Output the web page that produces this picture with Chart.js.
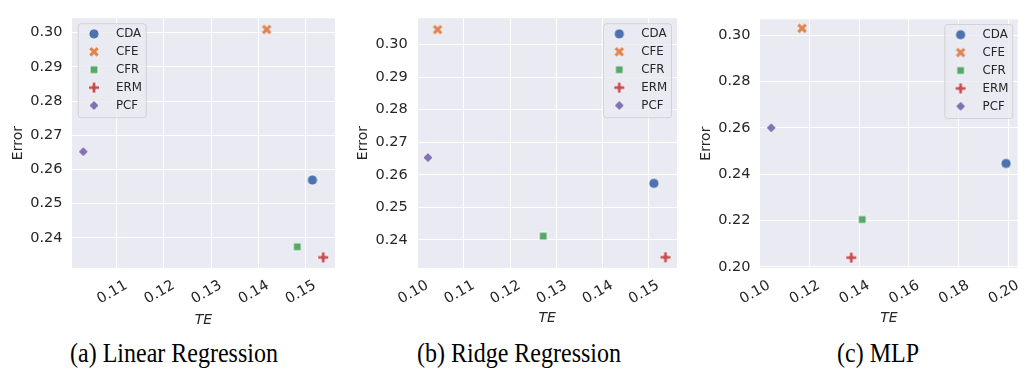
<!DOCTYPE html>
<html>
<head>
<meta charset="utf-8">
<title>TE vs Error</title>
<script src="https://cdn.jsdelivr.net/npm/chart.js@4.4.1/dist/chart.umd.min.js"></script>
<style>
  html, body { margin: 0; padding: 0; background: #ffffff; }
  #page { position: relative; width: 1027px; height: 377px; overflow: hidden; }
  .panel { position: absolute; top: 0; }
  .caption {
    position: absolute; top: 340px;
    font-family: "Liberation Serif", "Times New Roman", serif;
    font-size: 24px; color: #000; white-space: nowrap;
    transform: translateX(-50%) scaleY(1.12);
    transform-origin: center center;
  }
</style>
</head>
<body>
<div id="page">
  <canvas id="chartLin" class="panel" width="342" height="335" style="left:0px"></canvas>
  <canvas id="chartRidge" class="panel" width="342" height="335" style="left:342px"></canvas>
  <canvas id="chartMlp" class="panel" width="343" height="335" style="left:684px"></canvas>
  <div class="caption" style="left:174px">(a) Linear Regression</div>
  <div class="caption" style="left:519px">(b) Ridge Regression</div>
  <div class="caption" style="left:878px">(c) MLP</div>
</div>
<script>
(function() {
    'use strict';

    // ============================================================================
    // DATA
    // ============================================================================

    var methods = ['CDA', 'CFE', 'CFR', 'ERM', 'PCF'];

    // (a) Linear Regression
    var linTE = [0.1515, 0.1418, 0.1483, 0.1538, 0.1029];
    var linError = [0.2569, 0.3009, 0.2374, 0.2343, 0.2652];
    var linXTicks = [0.11, 0.12, 0.13, 0.14, 0.15];
    var linYTicks = [0.24, 0.25, 0.26, 0.27, 0.28, 0.29, 0.30];

    // (b) Ridge Regression
    var ridgeTE = [0.1512, 0.1043, 0.1272, 0.1537, 0.1022];
    var ridgeError = [0.2574, 0.3046, 0.2412, 0.2347, 0.2653];
    var ridgeXTicks = [0.10, 0.11, 0.12, 0.13, 0.14, 0.15];
    var ridgeYTicks = [0.24, 0.25, 0.26, 0.27, 0.28, 0.29, 0.30];

    // (c) MLP
    var mlpTE = [0.1991, 0.1171, 0.1413, 0.1369, 0.1047];
    var mlpError = [0.2446, 0.3029, 0.2204, 0.2040, 0.2600];
    var mlpXTicks = [0.10, 0.12, 0.14, 0.16, 0.18, 0.20];
    var mlpYTicks = [0.20, 0.22, 0.24, 0.26, 0.28, 0.30];

    // ============================================================================
    // STYLE
    // ============================================================================

    var colors = ['#4c72b0', '#dd8452', '#55a868', '#c44e52', '#8172b3'];
    var shapes = ['circle', 'x', 'square', 'plus', 'diamond'];
    var textColor = '#262626';
    var fontFamily = '"DejaVu Sans", Verdana, sans-serif';

    // seaborn-like filled markers with a thin white edge
    function makeMarker(shape, color) {
        var c = document.createElement('canvas');
        c.width = 16;
        c.height = 16;
        var g = c.getContext('2d');
        g.translate(8, 8);
        g.beginPath();
        var pts = null, k = 1;
        if (shape === 'circle') {
            g.arc(0, 0, 5.1, 0, Math.PI * 2);
        } else if (shape === 'square') {
            g.rect(-3.9, -3.9, 7.8, 7.8);
        } else if (shape === 'diamond') {
            g.moveTo(0, -5); g.lineTo(5, 0); g.lineTo(0, 5); g.lineTo(-5, 0);
            g.closePath();
        } else if (shape === 'plus') {
            pts = [[-1, -3], [1, -3], [1, -1], [3, -1], [3, 1], [1, 1],
                   [1, 3], [-1, 3], [-1, 1], [-3, 1], [-3, -1], [-1, -1]];
            k = 11 / 6;
        } else if (shape === 'x') {
            pts = [[-1, -2], [0, -1], [1, -2], [2, -1], [1, 0], [2, 1],
                   [1, 2], [0, 1], [-1, 2], [-2, 1], [-1, 0], [-2, -1]];
            k = 10.6 / 4;
        }
        if (pts) {
            pts.forEach(function(p, i) {
                if (i === 0) g.moveTo(p[0] * k, p[1] * k);
                else g.lineTo(p[0] * k, p[1] * k);
            });
            g.closePath();
        }
        g.fillStyle = color;
        g.fill();
        g.strokeStyle = '#ffffff';
        g.lineWidth = 0.8;
        g.stroke();
        return c;
    }

    var markers = shapes.map(function(s, i) { return makeMarker(s, colors[i]); });

    // ============================================================================
    // PLUGINS
    // ============================================================================

    var areaBackground = {
        id: 'areaBackground',
        beforeDraw: function(chart) {
            var a = chart.chartArea, ctx = chart.ctx;
            ctx.save();
            ctx.fillStyle = '#eaeaf2';
            ctx.fillRect(a.left, a.top, a.right - a.left, a.bottom - a.top);
            ctx.restore();
        }
    };

    // legend drawn inside the plot area, like matplotlib's
    var insetLegend = {
        id: 'insetLegend',
        afterDatasetsDraw: function(chart, args, opts) {
            var a = chart.chartArea, ctx = chart.ctx;
            var w = 68, h = 94, rowH = 17.9;
            var x = opts.side === 'right' ? a.right - opts.dx - w : a.left + opts.dx;
            var y = a.top + opts.dy;
            ctx.save();
            ctx.beginPath();
            ctx.roundRect(x + 0.5, y + 0.5, w, h, 3);
            ctx.fillStyle = 'rgba(234,234,242,0.8)';
            ctx.fill();
            ctx.strokeStyle = 'rgba(204,204,204,0.8)';
            ctx.lineWidth = 1;
            ctx.stroke();
            ctx.font = '11.8px ' + fontFamily;
            ctx.fillStyle = textColor;
            ctx.textBaseline = 'middle';
            ctx.textAlign = 'left';
            chart.data.datasets.forEach(function(ds, i) {
                var cy = y + 10.7 + i * rowH;
                ctx.drawImage(ds.pointStyle, x + 16.3 - 8, cy - 8);
                ctx.fillText(ds.label, x + 38.3, cy + 0.5);
            });
            ctx.restore();
        }
    };

    // ============================================================================
    // CHART CREATION
    // ============================================================================

    function buildPanel(canvasId, te, err, xTicks, yTicks, p) {
        var datasets = methods.map(function(m, i) {
            return {
                label: m,
                data: [{ x: te[i], y: err[i] }],
                pointStyle: markers[i],
                pointRadius: 6,
                pointHoverRadius: 6,
                backgroundColor: colors[i],
                borderColor: colors[i],
                clip: false
            };
        });

        return new Chart(document.getElementById(canvasId), {
            type: 'scatter',
            data: { datasets: datasets },
            plugins: [areaBackground, insetLegend],
            options: {
                responsive: false,
                animation: false,
                layout: { padding: { top: p.top, right: p.right, left: 0, bottom: 0 } },
                plugins: {
                    legend: { display: false },
                    tooltip: { enabled: false },
                    insetLegend: p.legend
                },
                scales: {
                    x: {
                        type: 'linear',
                        min: p.xMin,
                        max: p.xMax,
                        afterBuildTicks: function(s) {
                            s.ticks = xTicks.map(function(v) { return { value: v }; });
                        },
                        afterFit: function(s) { s.height = 335 - 268; },
                        grid: { color: '#ffffff', lineWidth: 1, drawTicks: false },
                        border: { display: false },
                        ticks: {
                            autoSkip: false,
                            minRotation: 30,
                            maxRotation: 30,
                            labelOffset: 9.6,
                            padding: 8.9,
                            color: textColor,
                            font: { family: fontFamily, size: 14.5 },
                            callback: function(v) { return v.toFixed(2); }
                        },
                        title: {
                            display: true,
                            text: 'TE',
                            color: textColor,
                            font: { family: fontFamily, size: 14, style: 'italic' },
                            padding: { top: 0, bottom: p.xTitlePad }
                        }
                    },
                    y: {
                        type: 'linear',
                        min: p.yMin,
                        max: p.yMax,
                        afterBuildTicks: function(s) {
                            s.ticks = yTicks.map(function(v) { return { value: v }; });
                        },
                        afterFit: function(s) { s.width = p.yWidth; },
                        grid: { color: '#ffffff', lineWidth: 1, drawTicks: false },
                        border: { display: false },
                        ticks: {
                            padding: 9.5,
                            color: textColor,
                            font: { family: fontFamily, size: 14.5 },
                            callback: function(v) { return v.toFixed(2); }
                        },
                        title: {
                            display: true,
                            text: 'Error',
                            color: textColor,
                            font: { family: fontFamily, size: 14 },
                            padding: { top: p.yTitlePad, bottom: 0 }
                        }
                    }
                }
            }
        });
    }

    buildPanel('chartLin', linTE, linError, linXTicks, linYTicks, {
        top: 10, right: 5, yWidth: 72, yTitlePad: 9.6, xTitlePad: 6.6,
        xMin: 0.1005, xMax: 0.1563, yMin: 0.2312, yMax: 0.3042,
        legend: { side: 'left', dx: 5.7, dy: 5 }
    });

    buildPanel('chartRidge', ridgeTE, ridgeError, ridgeXTicks, ridgeYTicks, {
        top: 10, right: 3, yWidth: 75.3, yTitlePad: 12.6, xTitlePad: 8,
        xMin: 0.0999, xMax: 0.1562, yMin: 0.2314, yMax: 0.3081,
        legend: { side: 'right', dx: 6, dy: 5 }
    });

    buildPanel('chartMlp', mlpTE, mlpError, mlpXTicks, mlpYTicks, {
        top: 19.3, right: 9.3, yWidth: 76, yTitlePad: 14.3, xTitlePad: 8,
        xMin: 0.1002, xMax: 0.2038, yMin: 0.1995, yMax: 0.3068,
        legend: { side: 'right', dx: 5.4, dy: 4.7 }
    });

})();
</script>
</body>
</html>
